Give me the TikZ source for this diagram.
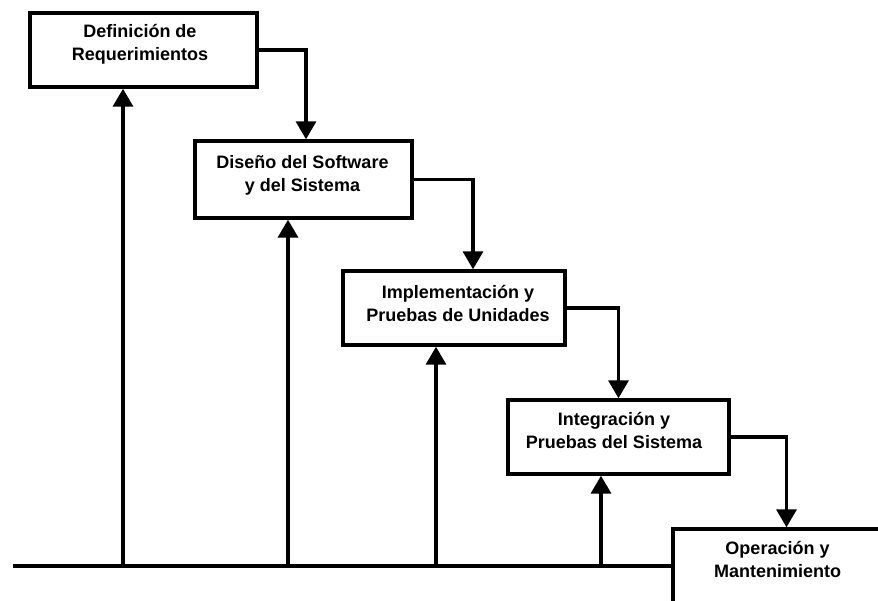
\documentclass[tikz,border=0pt]{standalone}
\usepackage{fontspec}
\setmainfont{Liberation Sans}
\usetikzlibrary{arrows.meta}
\begin{document}
\begin{tikzpicture}[x=1pt,y=-1pt,
  stage/.style={draw=black,line width=3.4pt,fill=white,rectangle,inner sep=0pt},
  lbl/.style={font=\bfseries\fontsize{18}{23}\selectfont,align=center,inner sep=0pt},
  conn/.style={line width=3.4pt,-{Triangle[width=20pt,length=18pt]}}]
\clip (0,0) rectangle (878,600);
\fill[white] (0,0) rectangle (878,600);

% phase boxes
\node[stage,minimum width=227pt,minimum height=74pt] (b1) at (143.5,50) {};
\node[stage,minimum width=217pt,minimum height=77pt] (b2) at (303.5,179.5) {};
\node[stage,minimum width=222pt,minimum height=74pt] (b3) at (454,308) {};
\node[stage,minimum width=221pt,minimum height=74pt] (b4) at (618.5,437) {};
\node[stage,minimum width=240pt,minimum height=100pt] (b5) at (793,579) {};

% phase names
\node[lbl] (t1) at (140,44) {Definición de\\Requerimientos};
\node[lbl] (t2) at (302.5,175) {Diseño del Software\\y del Sistema};
\node[lbl] (t3) at (458,303.5) {Implementación y\\Pruebas de Unidades};
\node[lbl] (t4) at (614,430.5) {Integración y\\Pruebas del Sistema};
\node[lbl] (t5) at (777.5,559.5) {Operación y\\Mantenimiento};

% forward flow between phases
\draw[conn] (b1.east) -| ([xshift=2.5pt]b2.north);
\draw[conn] (b2.east) -| ([xshift=19pt]b3.north);
\draw[conn] (b3.east) -| (b4.north);
\draw[conn] (b4.east) -| ([xshift=-6.5pt]b5.north);

% feedback line and returns to each phase
\coordinate (base) at (13,566);
\draw[line width=3.4pt] (base) -- (base -| b5.west);
\coordinate (u1) at (123,566);
\coordinate (u2) at (288,566);
\coordinate (u3) at (436,566);
\coordinate (u4) at (601,566);
\draw[conn] (u1) -- (u1 |- b1.south);
\draw[conn] (u2) -- (u2 |- b2.south);
\draw[conn] (u3) -- (u3 |- b3.south);
\draw[conn] (u4) -- (u4 |- b4.south);
\end{tikzpicture}
\end{document}
